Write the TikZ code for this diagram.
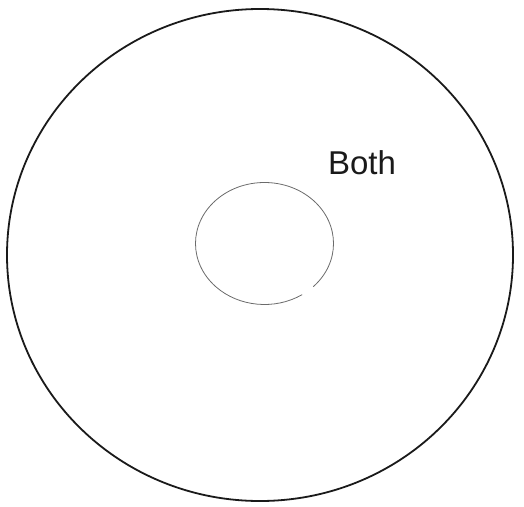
\documentclass[tikz,border=0pt]{standalone}
\usepackage{fontspec}
\setsansfont{Liberation Sans}
\usetikzlibrary{shapes.geometric}
\definecolor{cink}{HTML}{1A1A1A}
\definecolor{cpencil}{HTML}{6B6B6B}
\tikzset{
  every picture/.style={font=\sffamily},
  ring/.style={draw=cink, ellipse, line width=1.8pt, inner sep=0pt},
  hole/.style={draw=cpencil, line width=0.8pt},
  label/.style={font=\sffamily\fontsize{33}{38}\selectfont, text=cink},
}
\begin{document}
\begin{tikzpicture}[x=1pt, y=-1pt]
  \useasboundingbox (0,0) rectangle (524,506);
  \node[ring, minimum width=506pt, minimum height=492pt] (outer) at (260,255) {};
  \coordinate (mid) at (264.5,243.5);
  \draw[hole] (mid) ++(-45:69pt and 61pt) arc[start angle=-45, end angle=303, x radius=69pt, y radius=61pt];
  \node[label] (both) at (362,163) {Both};
\end{tikzpicture}
\end{document}
